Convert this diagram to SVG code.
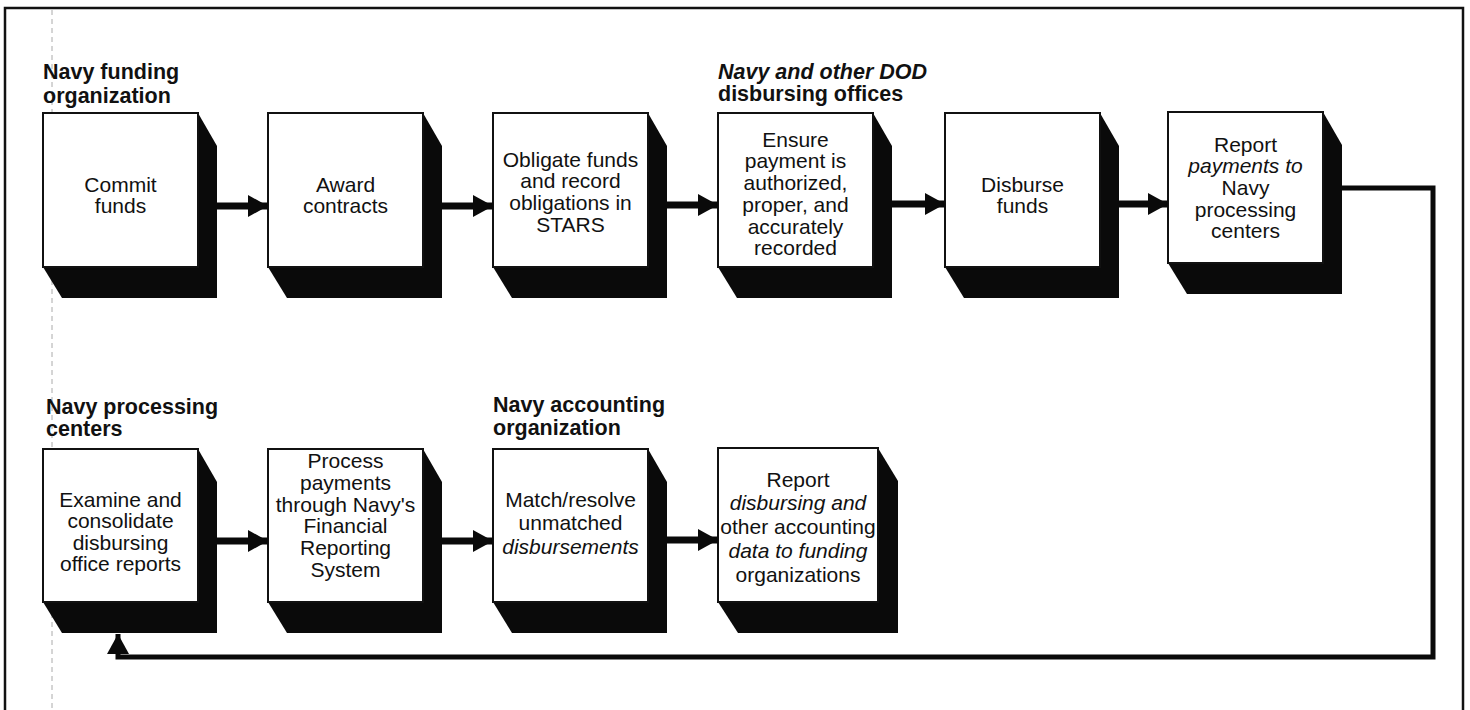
<svg xmlns="http://www.w3.org/2000/svg" width="1470" height="710" viewBox="0 0 1470 710">
<style>
.face{fill:#fff;stroke:#111;stroke-width:2}
.shadow{fill:#0a0a0a;stroke:none}
.body{font-family:"Liberation Sans",Arial,sans-serif;font-size:21px;fill:#111;text-anchor:middle}
.lane{font-family:"Liberation Sans",Arial,sans-serif;font-size:21.5px;font-weight:bold;fill:#111}
.it{font-style:italic}
.conn{fill:none;stroke:#0a0a0a;stroke-width:7}
.loop{fill:none;stroke:#0a0a0a;stroke-width:5}
</style>
<defs>
<marker id="ah" markerUnits="userSpaceOnUse" markerWidth="20" markerHeight="24" refX="20" refY="12" orient="auto">
<path d="M0,1 L20,12 L0,23 Z" fill="#0a0a0a"/>
</marker>
</defs>
<rect width="1470" height="710" fill="#fff"/>
<rect x="5" y="8" width="1458" height="740" fill="none" stroke="#111" stroke-width="2.5"/>
<line x1="52" y1="10" x2="52" y2="710" stroke="#aaa" stroke-width="1" stroke-dasharray="5 4"/>

<g id="lane-funding"><text class="lane" x="43" y="79">Navy funding<tspan x="43" y="103">organization</tspan></text></g>
<g id="lane-disbursing"><text class="lane" x="718" y="79"><tspan class="it">Navy and other DOD</tspan><tspan x="718" y="101">disbursing offices</tspan></text></g>
<g id="lane-processing"><text class="lane" x="46" y="414">Navy processing<tspan x="46" y="436">centers</tspan></text></g>
<g id="lane-accounting"><text class="lane" x="493" y="412">Navy accounting<tspan x="493" y="435">organization</tspan></text></g>

<g id="n1">
<polygon class="shadow" points="198,113 217,146 217,298 62,298 43,267"/>
<rect class="face" x="43" y="113" width="155" height="154"/>
<text class="body" x="120.5" y="191.7">Commit<tspan x="120.5" y="213">funds</tspan></text>
</g>
<g id="n2">
<polygon class="shadow" points="423,113 442,146 442,298 287,298 268,267"/>
<rect class="face" x="268" y="113" width="155" height="154"/>
<text class="body" x="345.5" y="191.7">Award<tspan x="345.5" y="213">contracts</tspan></text>
</g>
<g id="n3">
<polygon class="shadow" points="648,113 667,146 667,298 512,298 493,267"/>
<rect class="face" x="493" y="113" width="155" height="154"/>
<text class="body" x="570.5" y="166.7">Obligate funds<tspan x="570.5" y="188.4">and record</tspan><tspan x="570.5" y="210.1">obligations in</tspan><tspan x="570.5" y="231.8">STARS</tspan></text>
</g>
<g id="n4">
<polygon class="shadow" points="873,113 892,146 892,298 737,298 718,267"/>
<rect class="face" x="718" y="113" width="155" height="154"/>
<text class="body" x="795.5" y="146.7">Ensure<tspan x="795.5" y="168.4">payment is</tspan><tspan x="795.5" y="190.1">authorized,</tspan><tspan x="795.5" y="211.8">proper, and</tspan><tspan x="795.5" y="233.5">accurately</tspan><tspan x="795.5" y="255.2">recorded</tspan></text>
</g>
<g id="n5">
<polygon class="shadow" points="1100,113 1119,146 1119,298 964,298 945,267"/>
<rect class="face" x="945" y="113" width="155" height="154"/>
<text class="body" x="1022.5" y="191.7">Disburse<tspan x="1022.5" y="213">funds</tspan></text>
</g>
<g id="n6">
<polygon class="shadow" points="1323,112 1342,145 1342,294 1187,294 1168,263"/>
<rect class="face" x="1168" y="112" width="155" height="151"/>
<text class="body" x="1245.5" y="151.7">Report<tspan x="1245.5" y="173.3" class="it">payments to</tspan><tspan x="1245.5" y="195">Navy</tspan><tspan x="1245.5" y="216.7">processing</tspan><tspan x="1245.5" y="238.3">centers</tspan></text>
</g>

<g id="n7">
<polygon class="shadow" points="198,449 217,482 217,633 62,633 43,602"/>
<rect class="face" x="43" y="449" width="155" height="153"/>
<text class="body" x="120.5" y="506.7">Examine and<tspan x="120.5" y="528.3">consolidate</tspan><tspan x="120.5" y="550">disbursing</tspan><tspan x="120.5" y="570.5">office reports</tspan></text>
</g>
<g id="n8">
<polygon class="shadow" points="423,449 442,482 442,633 287,633 268,602"/>
<rect class="face" x="268" y="449" width="155" height="153"/>
<text class="body" x="345.5" y="468.3">Process<tspan x="345.5" y="490">payments</tspan><tspan x="345.5" y="511.7">through Navy's</tspan><tspan x="345.5" y="533.3">Financial</tspan><tspan x="345.5" y="555">Reporting</tspan><tspan x="345.5" y="576.7">System</tspan></text>
</g>
<g id="n9">
<polygon class="shadow" points="648,449 667,482 667,633 512,633 493,602"/>
<rect class="face" x="493" y="449" width="155" height="153"/>
<text class="body" x="570.5" y="506.5">Match/resolve<tspan x="570.5" y="530">unmatched</tspan><tspan x="570.5" y="554" class="it">disbursements</tspan></text>
</g>
<g id="n10">
<polygon class="shadow" points="878,448 898,481 898,633 738,633 718,602"/>
<rect class="face" x="718" y="448" width="160" height="154"/>
<text class="body" x="798" y="486.7">Report<tspan x="798" y="510" class="it">disbursing and</tspan><tspan x="798" y="533.5">other accounting</tspan><tspan x="798" y="558" class="it">data to funding</tspan><tspan x="798" y="581.7">organizations</tspan></text>
</g>

<g id="connectors">
<line class="conn" x1="217" y1="206" x2="268" y2="206" marker-end="url(#ah)"/>
<line class="conn" x1="442" y1="206" x2="493" y2="206" marker-end="url(#ah)"/>
<line class="conn" x1="667" y1="205" x2="718" y2="205" marker-end="url(#ah)"/>
<line class="conn" x1="892" y1="204" x2="945" y2="204" marker-end="url(#ah)"/>
<line class="conn" x1="1119" y1="204" x2="1168" y2="204" marker-end="url(#ah)"/>
<line class="conn" x1="217" y1="541" x2="268" y2="541" marker-end="url(#ah)"/>
<line class="conn" x1="442" y1="541" x2="493" y2="541" marker-end="url(#ah)"/>
<line class="conn" x1="667" y1="540" x2="718" y2="540" marker-end="url(#ah)"/>
<polyline class="loop" points="1342,188 1433,188 1433,657 118,657 118,634" marker-end="url(#ah)"/>
</g>
</svg>
